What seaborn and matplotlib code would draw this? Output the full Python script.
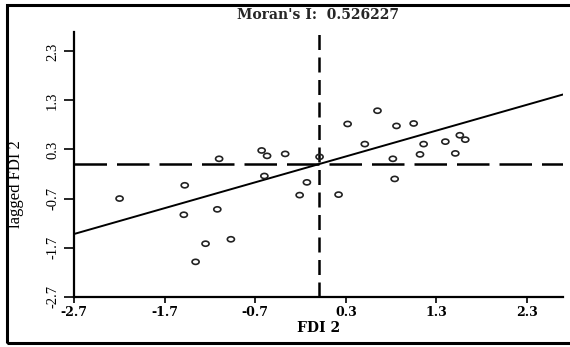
import matplotlib
matplotlib.use("Agg")
import matplotlib.pyplot as plt
from matplotlib.path import Path
from matplotlib.transforms import Affine2D
from matplotlib.patches import Rectangle
import pandas as pd
import seaborn as sns

# standardised FDI and its spatial lag
fdi2 = [-2.20, -1.48, -1.49, -1.12, -1.10, -1.25, -0.97, -1.36, -0.63, -0.57,
        -0.37, -0.60, -0.21, -0.13, 0.01, 0.22, 0.32, 0.65, 0.51, 0.86,
        1.05, 0.82, 0.84, 1.16, 1.12, 1.40, 1.51, 1.56, 1.62]
lagged_fdi2 = [-0.70, -0.43, -1.03, -0.92, 0.11, -1.62, -1.53, -1.99, 0.28, 0.17,
               0.21, -0.24, -0.63, -0.37, 0.15, -0.62, 0.82, 1.09, 0.41, 0.78,
               0.83, 0.11, -0.30, 0.41, 0.20, 0.46, 0.22, 0.59, 0.50]
moran_i = 0.526227
centre = 0.0
tick_values = [-2.7, -1.7, -0.7, 0.3, 1.3, 2.3]
tick_labels = ["-2.7", "-1.7", "-0.7", "0.3", "1.3", "2.3"]

df = pd.DataFrame({"FDI 2": fdi2, "lagged FDI 2": lagged_fdi2})

sns.set_style("ticks")

fig = plt.figure(figsize=(5.7, 3.47), dpi=100)
ax = fig.add_axes([0.1304, 0.145, 0.8573, 0.7636])

# slightly flattened open circles, like the original
ellipse = Affine2D().scale(1.0, 0.72).transform_path(Path.unit_circle())
sns.scatterplot(data=df, x="FDI 2", y="lagged FDI 2", marker=ellipse, s=26,
                facecolor="none", edgecolor="#222222", linewidth=1.2, ax=ax, zorder=3)
ax.collections[0].set_facecolor("none")

# quadrant lines and Moran's I slope
ax.axhline(centre, color="black", lw=1.8, dashes=(13, 4))
ax.axvline(centre, color="black", lw=1.8, dashes=(6, 3))
ax.axline((centre, centre), slope=moran_i, color="black", lw=1.4)

ax.set_xlim(-2.7, 2.7)
ax.set_ylim(-2.7, 2.7)
ax.set_xticks(tick_values)
ax.set_yticks(tick_values)
ax.set_xticklabels(tick_labels, fontfamily="DejaVu Serif", fontweight="bold", fontsize=9)
ax.set_yticklabels(tick_labels, fontfamily="Liberation Serif", fontsize=10.5,
                   rotation=90, va="center")
ax.tick_params(colors="black")
ax.tick_params(axis="x", length=4, width=1.2, pad=3)
ax.tick_params(axis="y", length=7, width=1.2, pad=4)

sns.despine(ax=ax)
for side in ["left", "bottom"]:
    ax.spines[side].set_linewidth(1.6)
    ax.spines[side].set_color("black")

ax.set_xlabel("FDI 2", fontfamily="DejaVu Serif", fontweight="bold", fontsize=10,
              labelpad=1, color="black")
ax.set_ylabel("lagged FDI 2", fontfamily="Liberation Serif", fontsize=12, color="black")
ax.yaxis.set_label_coords(-0.103, 0.425)

fig.text(0.558, 0.958, f"Moran's I:  {moran_i:.6f}", ha="center", va="center",
         fontfamily="DejaVu Serif", fontweight="bold", fontsize=10)

# black border round the picture
fig.patches.append(Rectangle((0.0118, 0.0115), 1.2, 0.974, transform=fig.transFigure,
                             fill=False, edgecolor="black", lw=2.2))

fig.savefig("out.png", dpi=100)
